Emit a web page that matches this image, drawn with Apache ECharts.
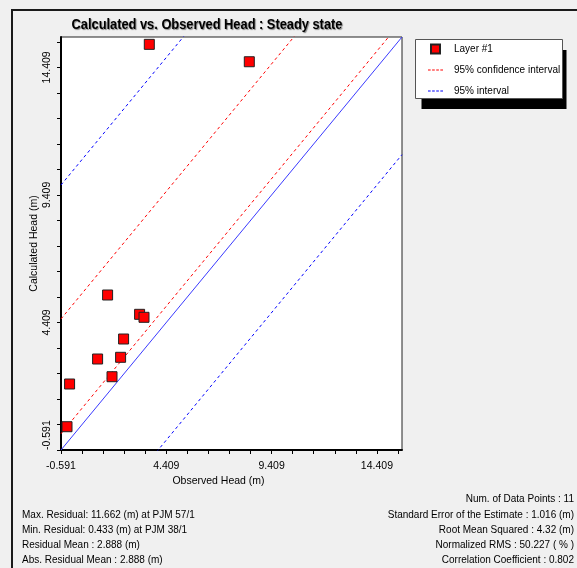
<!DOCTYPE html>
<html>
<head>
<meta charset="utf-8">
<script src="https://cdn.jsdelivr.net/npm/echarts@6/dist/echarts.min.js"></script>
<style>
html,body{margin:0;padding:0;background:#f0f0f0;}
#chart{width:577px;height:568px;}
</style>
</head>
<body>
<div id="chart"></div>
<script>
// ---- data ----
const observedHead   = [1.622, 3.141, 3.350, 2.381, 1.147, 2.239, 1.831, -0.183, -0.306, 3.602, 8.350];
const calculatedHead = [5.485, 4.728, 4.611, 3.760, 2.976, 3.043, 2.282, 1.996, 0.322, 15.312, 14.630];
const axisMin = -0.591;
const axisMax = 15.6;
const tickLabels = [-0.591, 4.409, 9.409, 14.409];
const minorTicks = [-0.591, 0.409, 1.409, 2.409, 3.409, 4.409, 5.409, 6.409, 7.409, 8.409, 9.409, 10.409, 11.409, 12.409, 13.409, 14.409, 15.409];
const meanResidual = 2.888;
const confidenceHalfWidth = 2.25;
const intervalHalfWidth = 7.5;
const titleText = 'Calculated vs. Observed Head : Steady state';
const legendNames = ['Layer #1', '95% confidence interval', '95% interval'];
const statsLeft = [
  'Max. Residual: 11.662 (m) at PJM 57/1',
  'Min. Residual: 0.433 (m) at PJM 38/1',
  'Residual Mean : 2.888 (m)',
  'Abs. Residual Mean : 2.888 (m)'
];
const statsRight = [
  'Num. of Data Points : 11',
  'Standard Error of the Estimate : 1.016 (m)',
  'Root Mean Squared : 4.32 (m)',
  'Normalized RMS : 50.227 ( % )',
  'Correlation Coefficient : 0.802'
];

const FONT = "'Liberation Sans Narrow','Arial Narrow','Liberation Sans',Arial,sans-serif";
const DASH_ICON = 'path://M0,0h2.6v1h-2.6zM4,0h2.6v1h-2.6zM8,0h2.6v1h-2.6zM12,0h2.6v1h-2.6z';

function offsetLine(off) {
  return [[axisMin, axisMin + off], [axisMax, axisMax + off]];
}
function axisCommon(name) {
  return {
    type: 'value', min: axisMin, max: axisMax,
    name: name, nameLocation: 'middle', nameMoveOverlap: false,
    axisLine: {show: true, onZero: false, lineStyle: {color: '#000', width: 2}},
    axisTick: {show: true, length: 4, customValues: minorTicks, lineStyle: {color: '#000', width: 1}},
    splitLine: {show: false},
    axisLabel: {customValues: tickLabels, formatter: v => v.toFixed(3), color: '#000', fontSize: 10.5, fontFamily: FONT}
  };
}

const xAxis = axisCommon('Observed Head (m)');
xAxis.nameGap = 26;
xAxis.nameTextStyle = {fontSize: 10.5, color: '#000', fontFamily: FONT, padding: [0, 26, 0, 0]};
xAxis.axisLabel.margin = 11;

const yAxis = axisCommon('Calculated Head (m)');
yAxis.nameGap = 21;
yAxis.nameTextStyle = {fontSize: 10.5, color: '#000', fontFamily: FONT};
yAxis.axisLabel.rotate = 90;
yAxis.axisLabel.margin = 8;
yAxis.axisLabel.alignMinLabel = 'left';

const lineBase = {type: 'line', symbol: 'none', showSymbol: false, silent: true, clip: true, z: 2};

const chart = echarts.init(document.getElementById('chart'), null, {renderer: 'canvas'});
chart.setOption({
  backgroundColor: '#f0f0f0',
  animation: false,
  textStyle: {fontFamily: FONT},
  grid: {left: 61, right: 175, top: 37, bottom: 118, show: true, backgroundColor: '#fff', borderColor: '#222', borderWidth: 1},
  xAxis: xAxis,
  yAxis: yAxis,
  legend: {
    orient: 'vertical', left: 416, top: 39, z: 10,
    padding: [3, 5, 2, 12], itemGap: 7, itemWidth: 15, itemHeight: 9,
    backgroundColor: 'transparent', borderWidth: 0,
    textStyle: {fontSize: 10, color: '#000', fontFamily: FONT, padding: [0, 0, 0, 6], lineHeight: 14},
    selectedMode: false,
    data: [
      {name: legendNames[0], icon: 'path://M0,0H10V10H0Z'},
      {name: legendNames[1], icon: DASH_ICON},
      {name: legendNames[2], icon: DASH_ICON}
    ]
  },
  graphic: [
    {type: 'rect', z: -10, silent: true, shape: {x: 12, y: 10, width: 620, height: 620}, style: {fill: 'none', stroke: '#1a1a1a', lineWidth: 2}},
    {type: 'rect', z: 1, silent: true, shape: {x: 421.5, y: 50, width: 145, height: 59}, style: {fill: '#000'}},
    {type: 'rect', z: 2, silent: true, shape: {x: 415.5, y: 39.5, width: 147, height: 59}, style: {fill: '#fff', stroke: '#555', lineWidth: 1}},
    {type: 'text', x: 207, y: 25, scaleX: 0.855, silent: true,
      style: {text: titleText, font: "bold 15px " + FONT, fill: '#000', align: 'center', verticalAlign: 'middle',
        textShadowColor: 'rgba(0,0,0,0.45)', textShadowBlur: 1, textShadowOffsetX: 1, textShadowOffsetY: 1}},
    {type: 'text', x: 22, y: 507.5, scaleX: 0.87, silent: true,
      style: {text: statsLeft.join('\n'), font: "11.5px " + FONT, lineHeight: 15, fill: '#000', align: 'left', verticalAlign: 'top'}},
    {type: 'text', x: 574, y: 491.5, scaleX: 0.87, silent: true,
      style: {text: statsRight.join('\n'), font: "11.5px " + FONT, lineHeight: 15.25, fill: '#000', align: 'right', verticalAlign: 'top'}}
  ],
  series: [
    Object.assign({}, lineBase, {name: '1:1', data: offsetLine(0), itemStyle: {color: '#3a3aff'}, lineStyle: {color: '#3a3aff', width: 1}}),
    Object.assign({}, lineBase, {name: legendNames[1], data: offsetLine(meanResidual + confidenceHalfWidth), itemStyle: {color: '#ff0000'}, lineStyle: {color: '#ff0000', width: 1, type: [3, 3]}}),
    Object.assign({}, lineBase, {name: legendNames[1], data: offsetLine(meanResidual - confidenceHalfWidth), itemStyle: {color: '#ff0000'}, lineStyle: {color: '#ff0000', width: 1, type: [3, 3]}}),
    Object.assign({}, lineBase, {name: legendNames[2], data: offsetLine(meanResidual + intervalHalfWidth), itemStyle: {color: '#0000ff'}, lineStyle: {color: '#0000ff', width: 1, type: [3, 3]}}),
    Object.assign({}, lineBase, {name: legendNames[2], data: offsetLine(meanResidual - intervalHalfWidth), itemStyle: {color: '#0000ff'}, lineStyle: {color: '#0000ff', width: 1, type: [3, 3]}}),
    {
      name: legendNames[0], type: 'scatter', z: 5,
      symbol: 'rect', symbolSize: 10,
      data: observedHead.map((o, i) => [o, calculatedHead[i]]),
      itemStyle: {color: '#ff0000', borderColor: '#222', borderWidth: 1, opacity: 1}
    }
  ]
});
</script>
</body>
</html>
